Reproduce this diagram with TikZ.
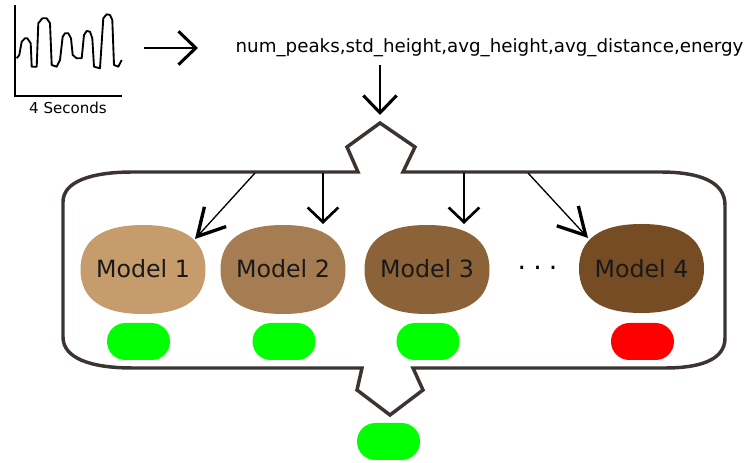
\documentclass[tikz,border=0pt]{standalone}
\usepackage{fontspec}
\setmainfont{DejaVu Sans}
\usetikzlibrary{arrows.meta}
\definecolor{frame}{HTML}{3C3431}
\definecolor{mA}{HTML}{C69C6D}
\definecolor{mB}{HTML}{A67C52}
\definecolor{mC}{HTML}{8C6239}
\definecolor{mD}{HTML}{754C24}
\definecolor{okg}{HTML}{00FF00}
\definecolor{bad}{HTML}{FF0000}
\tikzset{
 mshape/.pic={\fill[pic actions] (-62.5,0) .. controls (-62.5,-29.4) and (-41.25,-44.5) .. (0,-44.5)
   .. controls (41.25,-44.5) and (62.5,-29.4) .. (62.5,0)
   .. controls (62.5,29.4) and (41.25,44.5) .. (0,44.5)
   .. controls (-41.25,44.5) and (-62.5,29.4) .. (-62.5,0) -- cycle;},
 model/.style={inner sep=0pt, font=\fontsize{17.8}{20}\selectfont, text=black!90},
 pill/.style={rounded corners=13.8pt, minimum width=47.25pt, minimum height=27.75pt, inner sep=0pt},
 bigarrow/.style={line width=1.5pt, -{Straight Barb[length=13pt, width=25pt, line width=2.3pt]}},
 feedarrow/.style={line width=1pt, -{Straight Barb[length=11pt, width=23pt, line width=2pt]}},
 diagarrow/.style={line width=1pt, -{Straight Barb[length=20pt, width=22pt, line width=2.5pt]}},
}
\begin{document}
\begin{tikzpicture}[x=0.75pt,y=-0.75pt]
\useasboundingbox (0,0) rectangle (744,463);
% signal plot
\draw[line width=1.1pt] (15,5) -- (15,96) -- (122,96);
\draw[line width=1.4pt, line join=round]
 (16.7,58.3) -- (19.3,55) -- (21.7,41.7) -- (25,38.3) -- (27.3,38.3) -- (30.7,43.3) -- (31.7,66.7) -- (36.7,66.7)
 -- (38.3,23.3) -- (42.3,18.3) -- (46.7,18.3) -- (50,23.3) -- (51.7,65) -- (56.7,66.7) -- (60,60)
 -- (62.7,36.7) -- (65,33.3) -- (68.3,33.3) -- (71,38.3) -- (72.7,55) -- (76.7,58.3) -- (81.7,58.3)
 -- (84,35) -- (86.7,31) -- (90,31.7) -- (92.3,38.3) -- (94,66.7) -- (100,68.3)
 -- (103.3,18.3) -- (106.7,14.3) -- (110,15) -- (112.3,20) -- (114,65) -- (118.3,66.7) -- (121.7,60);
\node (secs) at (68,108) {\fontsize{11.3}{13}\selectfont 4 Seconds};
% features
\node (feat) at (489.5,48) {\fontsize{13.7}{16}\selectfont num\_peaks,std\_height,avg\_height,avg\_distance,energy};
\coordinate (sigR) at (144,48);
\coordinate (featL) at (198,48);
\draw[bigarrow] (sigR) -- (featL);
\coordinate (featS) at (380,65);
\coordinate (notchT) at (380,115);
\draw[bigarrow] (featS) -- (notchT);
% container
\draw[frame, line width=2.6pt, line join=miter]
 (133,172) -- (358,172) -- (347,147) -- (380,123) -- (415,147) -- (403,172) -- (660,172)
 .. controls (700,172) and (725,182) .. (725,205) -- (725,338)
 .. controls (725,360) and (700,368) .. (665,368) -- (413,368) -- (423,390) -- (390,415) -- (357,390) -- (362,368)
 -- (133,368) .. controls (90,368) and (63,358) .. (63,337) -- (63,202)
 .. controls (63,182) and (90,172) .. (133,172) -- cycle;
% models
\pic[fill=mA] at (143,269.5) {mshape};
\pic[fill=mB] at (283,269.5) {mshape};
\pic[fill=mC] at (427,269.5) {mshape};
\pic[fill=mD] at (641.5,268.5) {mshape};
\node[model] (m1) at (143,269) {Model 1};
\node[model] (m2) at (283,269) {Model 2};
\node[model] (m3) at (427,269) {Model 3};
\node[model] (m4) at (641.5,268.5) {Model 4};
\node[anchor=base] (dots) at (537.5,270) {\fontsize{20}{20}\selectfont .\hspace{5.3pt}.\hspace{5.3pt}.};
% feed arrows
\coordinate (f1) at (255,173);
\coordinate (f2) at (323,173);
\coordinate (f3) at (464,173);
\coordinate (f4) at (528,173);
\coordinate (t1) at (195,239);
\coordinate (t2) at (323,224);
\coordinate (t3) at (464,224);
\coordinate (t4) at (588,238);
\draw[diagarrow] (f1) -- (t1);
\draw[feedarrow] (f2) -- (t2);
\draw[feedarrow] (f3) -- (t3);
\draw[diagarrow] (f4) -- (t4);
% result pills
\node[pill, fill=okg] (p1) at (138.5,341.5) {};
\node[pill, fill=okg] (p2) at (284,341.5) {};
\node[pill, fill=okg] (p3) at (428,341.5) {};
\node[pill, fill=bad] (p4) at (642.5,341.5) {};
\node[pill, fill=okg] (pf) at (388.5,441.5) {};
\end{tikzpicture}
\end{document}
